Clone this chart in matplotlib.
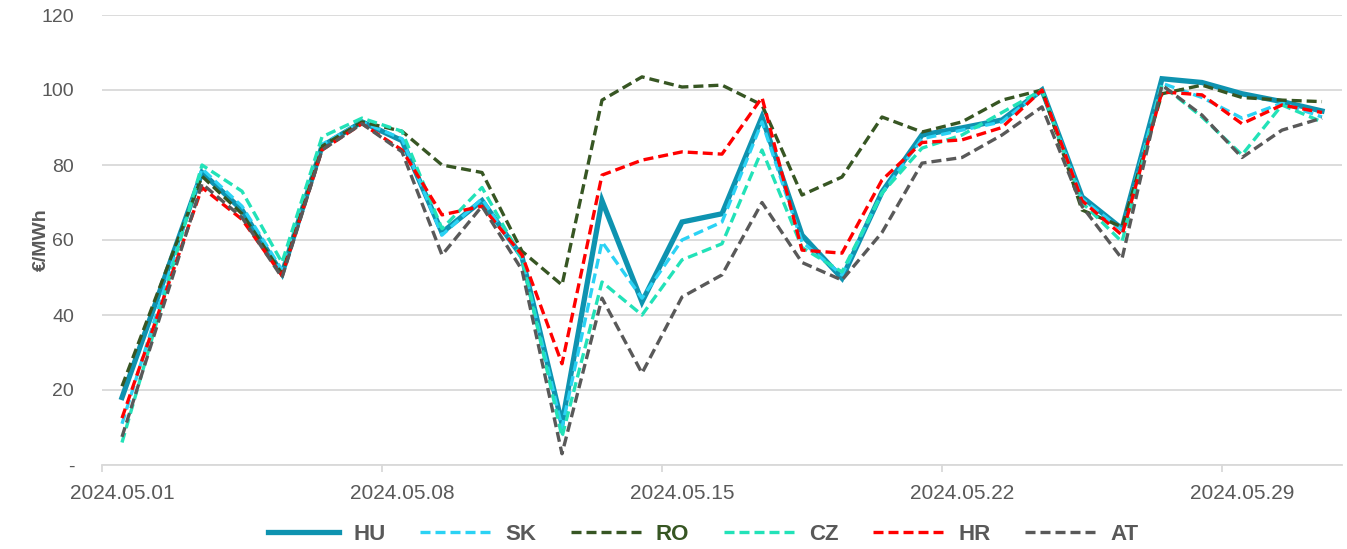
import matplotlib
matplotlib.use('Agg')
import matplotlib.pyplot as plt
import numpy as np

plt.rcParams['font.family'] = ['Liberation Sans', 'DejaVu Sans']

# day of May 2024 (no value shown for 05.02)
days = [1, 3, 4, 5, 6, 7, 8, 9, 10, 11, 12, 13, 14, 15, 16, 17, 18, 19, 20,
        21, 22, 23, 24, 25, 26, 27, 28, 29, 30, 31]

hu = [18, 78, 68, 51, 85, 91.5, 86.5, 62, 70.5, 55.5, 11, 70.5, 43.5, 64.8, 67,
      92.8, 61.3, 49.8, 72.8, 88, 89.9, 92, 100, 71.5, 63, 103, 102, 99, 96.9, 94.4]
sk = [11, 79, 69, 52, 85.5, 91.5, 87, 61.3, 71, 55, 10, 59.5, 44.5, 60, 64.8,
      91.5, 59.5, 50.7, 72.5, 87, 89.3, 91.5, 100, 71, 62.7, 101.8, 98, 92.5, 96.5, 92.8]
ro = [21, 77, 67, 51, 85, 91.5, 89, 80, 78, 57, 48, 97.3, 103.5, 100.8, 101.3,
      96, 72, 76.8, 92.8, 88.8, 91.5, 97.3, 100, 68, 63.5, 99, 101.3, 98, 97.3, 96.9]
cz = [6, 80, 73, 54, 87.5, 92.5, 89, 63, 74, 55, 7.5, 48.8, 40, 54.7, 59,
      84, 58, 51.5, 72.5, 84.5, 88, 94, 100, 70, 59.5, 101.3, 92.8, 82.7, 96, 91.5]
hr = [12.5, 74, 65.5, 50.5, 84, 91, 84, 66.7, 69, 56, 27, 77.3, 81.3, 83.5, 82.9,
      98, 57.3, 56.5, 76, 86, 86.7, 90, 100, 70.5, 61.3, 99.5, 98.7, 91, 96, 94]
at = [7.5, 75, 66, 50, 84, 91, 83.5, 56, 69, 52, 3, 44.5, 24.5, 44.8, 50.7,
      70, 54, 49.3, 62, 80.5, 82, 88, 95.5, 69, 55, 101.3, 93.3, 82, 89.3, 92.5]

tick_days = [1, 8, 15, 22, 29]
tick_labels = ['2024.05.01', '2024.05.08', '2024.05.15', '2024.05.22', '2024.05.29']

series = [
    ('HU', hu, '#0E93B0', 3.8, '-'),
    ('SK', sk, '#2BD2F4', 2.4, '--'),
    ('RO', ro, '#375623', 2.4, '--'),
    ('CZ', cz, '#22E2B8', 2.4, '--'),
    ('HR', hr, '#FF0000', 2.4, '--'),
    ('AT', at, '#595959', 2.4, '--'),
]

fig = plt.figure(figsize=(13.47, 5.49), dpi=100)
ax = fig.add_axes([102 / 1347, 1 - 465 / 549, 1240 / 1347, 450 / 549])

# points sit in the middle of each day, ticks mark the day boundaries
x = np.array(days) - 0.5
for name, vals, color, lw, ls in series:
    line, = ax.plot(x, vals, color=color, lw=lw, ls=ls, label=name,
                    solid_joinstyle='miter', dash_capstyle='butt')
    if ls == '--':
        line.set_dashes((3.0, 1.5))

ax.set_xlim(0, 31)
ax.set_ylim(0, 120)
ax.set_yticks(np.arange(0, 121, 20))
ax.set_yticklabels(['-'] + [str(v) for v in range(20, 121, 20)])
ax.set_xticks(np.array(tick_days) - 1)
ax.set_xticklabels([])
ax.set_xticks(np.array(tick_days) - 0.5, minor=True)
ax.set_xticklabels(tick_labels, minor=True)

ax.grid(axis='y', color='#D9D9D9', lw=1.3)
ax.set_axisbelow(True)
for s in ['top', 'right', 'left']:
    ax.spines[s].set_visible(False)
ax.spines['bottom'].set_color('#D9D9D9')
ax.spines['bottom'].set_linewidth(1.3)
ax.tick_params(axis='y', length=0, pad=20, labelsize=14, labelcolor='#595959')
ax.tick_params(axis='x', which='major', length=5, width=1.3, color='#D9D9D9')
ax.tick_params(axis='x', which='minor', length=0, pad=14,
               labelsize=15, labelcolor='#595959')

ax.set_ylabel('€/MWh', fontsize=14, fontweight='bold', color='#595959')
ax.yaxis.set_label_coords(-52 / 1240, 0.5)

leg = fig.legend(loc='center', bbox_to_anchor=(0.522, 0.027), ncol=6, frameon=False,
                 handlelength=3.2, columnspacing=1.55, handletextpad=0.64,
                 prop={'size': 16, 'weight': 'bold'})
for txt in leg.get_texts():
    txt.set_color('#375623' if txt.get_text() == 'RO' else '#595959')

fig.savefig('out.png', dpi=100)
